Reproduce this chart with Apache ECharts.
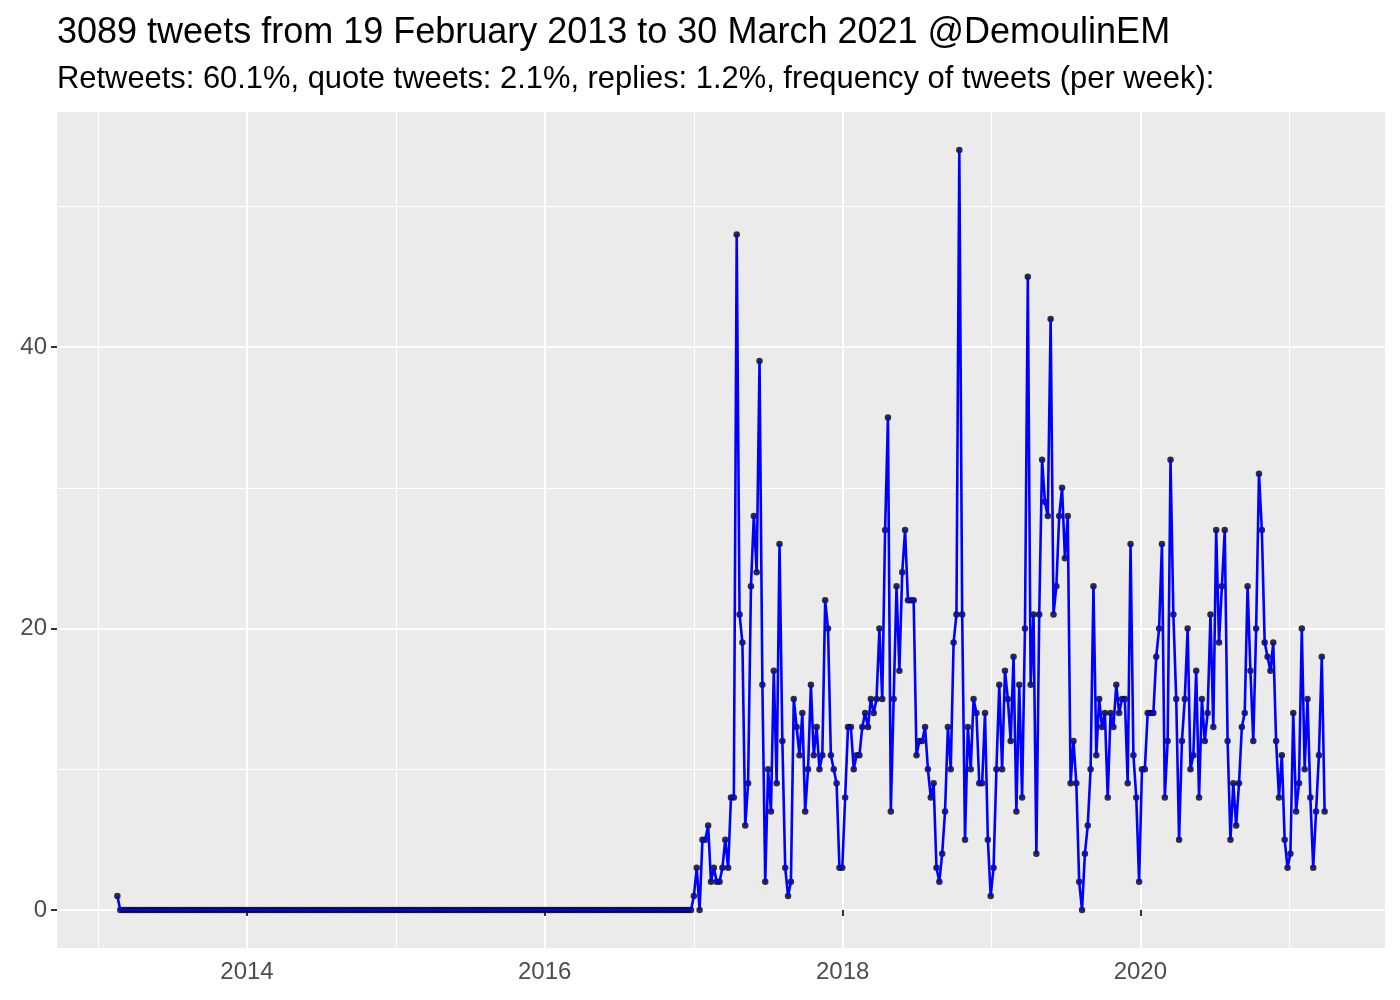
<!DOCTYPE html>
<html>
<head>
<meta charset="utf-8">
<script src="https://cdn.jsdelivr.net/npm/echarts@6/dist/echarts.min.js"></script>
<style>html,body{margin:0;padding:0;background:#fff;}#chart{width:1400px;height:1000px;}</style>
</head>
<body>
<div id="chart"></div>
<script>
// ---- data ----
const startDate = '2013-02-17';          // first weekly bin
const weekDays = 7;
const weeklyTweets = [
  1,
  0,0,0,0,0,0,0,0,0,0,0,0,0,0,0,0,0,0,0,0,
  0,0,0,0,0,0,0,0,0,0,0,0,0,0,0,0,0,0,0,0,
  0,0,0,0,0,0,0,0,0,0,0,0,0,0,0,0,0,0,0,0,
  0,0,0,0,0,0,0,0,0,0,0,0,0,0,0,0,0,0,0,0,
  0,0,0,0,0,0,0,0,0,0,0,0,0,0,0,0,0,0,0,0,
  0,0,0,0,0,0,0,0,0,0,0,0,0,0,0,0,0,0,0,0,
  0,0,0,0,0,0,0,0,0,0,0,0,0,0,0,0,0,0,0,0,
  0,0,0,0,0,0,0,0,0,0,0,0,0,0,0,0,0,0,0,0,
  0,0,0,0,0,0,0,0,0,0,0,0,0,0,0,0,0,0,0,0,
  0,0,0,0,0,0,0,0,0,0,0,0,0,0,0,0,0,0,0,0,
  0,
  1,3,0,5,5,6,2,3,2,2,3,5,3,8,8,48,21,19,6,9,23,28,24,39,16,
  2,10,7,17,9,26,12,3,1,2,15,13,11,14,7,10,16,11,13,10,11,22,20,11,10,9,3,3,
  8,13,13,10,11,11,13,14,13,15,14,15,20,15,27,35,7,15,23,17,24,27,22,22,22,11,12,12,13,10,
  8,9,3,2,4,7,13,10,19,21,54,21,5,13,10,15,14,9,9,14,5,1,3,10,16,10,17,
  15,12,18,7,16,8,20,45,16,21,4,21,32,29,28,42,21,23,28,30,25,28,9,12,9,2,0,4,6,
  10,23,11,15,13,14,8,14,13,16,14,15,15,9,26,11,8,2,10,10,14,14,14,18,20,26,8,12,32,21,
  15,5,12,15,20,10,11,17,8,15,12,14,21,13,27,19,23,27,12,5,9,6,9,13,14,23,17,12,
  20,31,27,19,18,17,19,12,8,11,5,3,4,14,7,9,20,10,15,8,3,7,11,18,7
];
const majorYearTicks = [2014, 2016, 2018, 2020];
const minorYearTicks = [2013, 2015, 2017, 2019, 2021];
const majorYTicks = [0, 20, 40];
const minorYTicks = [10, 30, 50];
const titleText = '3089 tweets from 19 February 2013 to 30 March 2021 @DemoulinEM';
const subtitleText = 'Retweets: 60.1%, quote tweets: 2.1%, replies: 1.2%, frequency of tweets (per week):';

// ---- build ----
const DAY = 86400000;
const t0 = Date.parse(startDate + 'T00:00:00Z');
const points = weeklyTweets.map((v, i) => [t0 + i * weekDays * DAY, v]);
const xFirst = points[0][0], xLast = points[points.length - 1][0];
const xPad = (xLast - xFirst) * 0.05;
const yMaxData = Math.max(...weeklyTweets), yMinData = Math.min(...weeklyTweets);
const yPad = (yMaxData - yMinData) * 0.05;
const yearTs = y => Date.UTC(y, 0, 1);

const chart = echarts.init(document.getElementById('chart'), null, {renderer: 'canvas'});
const font = 'Liberation Sans, Arial, Helvetica, sans-serif';
chart.setOption({
  animation: false,
  backgroundColor: '#ffffff',
  title: [
    {text: titleText, left: 52, top: 10, padding: 5, textStyle: {fontFamily: font, fontSize: 36, fontWeight: 'normal', color: '#000'}},
    {text: subtitleText, left: 52, top: 59, padding: 5, textStyle: {fontFamily: font, fontSize: 30.9, fontWeight: 'normal', color: '#000'}}
  ],
  grid: {left: 57, right: 15, top: 112, bottom: 52, containLabel: false, show: true, backgroundColor: '#EBEBEB', borderWidth: 0},
  xAxis: [
    {
      type: 'value', min: xFirst - xPad, max: xLast + xPad,
      axisLine: {show: false},
      axisTick: {show: true, customValues: majorYearTicks.map(yearTs), length: 6, lineStyle: {color: '#333333', width: 2}},
      axisLabel: {customValues: majorYearTicks.map(yearTs), formatter: v => String(new Date(v).getUTCFullYear()), color: '#4D4D4D', fontFamily: font, fontSize: 24, margin: 12},
      splitLine: {show: true, lineStyle: {color: '#ffffff', width: 2}}
    },
    {
      type: 'value', min: xFirst - xPad, max: xLast + xPad, position: 'bottom',
      axisLine: {show: false},
      axisTick: {show: false, customValues: minorYearTicks.map(yearTs)},
      axisLabel: {show: false, customValues: minorYearTicks.map(yearTs)},
      splitLine: {show: true, lineStyle: {color: '#ffffff', width: 1}}
    }
  ],
  yAxis: [
    {
      type: 'value', min: yMinData - yPad, max: yMaxData + yPad,
      axisLine: {show: false},
      axisTick: {show: true, customValues: majorYTicks, length: 6, lineStyle: {color: '#333333', width: 2}},
      axisLabel: {customValues: majorYTicks, color: '#4D4D4D', fontFamily: font, fontSize: 24, margin: 10},
      splitLine: {show: true, lineStyle: {color: '#ffffff', width: 2}}
    },
    {
      type: 'value', min: yMinData - yPad, max: yMaxData + yPad, position: 'left',
      axisLine: {show: false},
      axisTick: {show: false, customValues: minorYTicks},
      axisLabel: {show: false, customValues: minorYTicks},
      splitLine: {show: true, lineStyle: {color: '#ffffff', width: 1}}
    }
  ],
  series: [
    {
      type: 'scatter', data: points, xAxisIndex: 0, yAxisIndex: 0,
      symbol: 'circle', symbolSize: 6.5, itemStyle: {color: '#000000'}, z: 2, silent: true
    },
    {
      type: 'line', data: points, xAxisIndex: 0, yAxisIndex: 0,
      showSymbol: false, symbol: 'none', lineStyle: {color: '#0000FF', width: 2.6}, z: 3, silent: true
    }
  ]
});
</script>
</body>
</html>
